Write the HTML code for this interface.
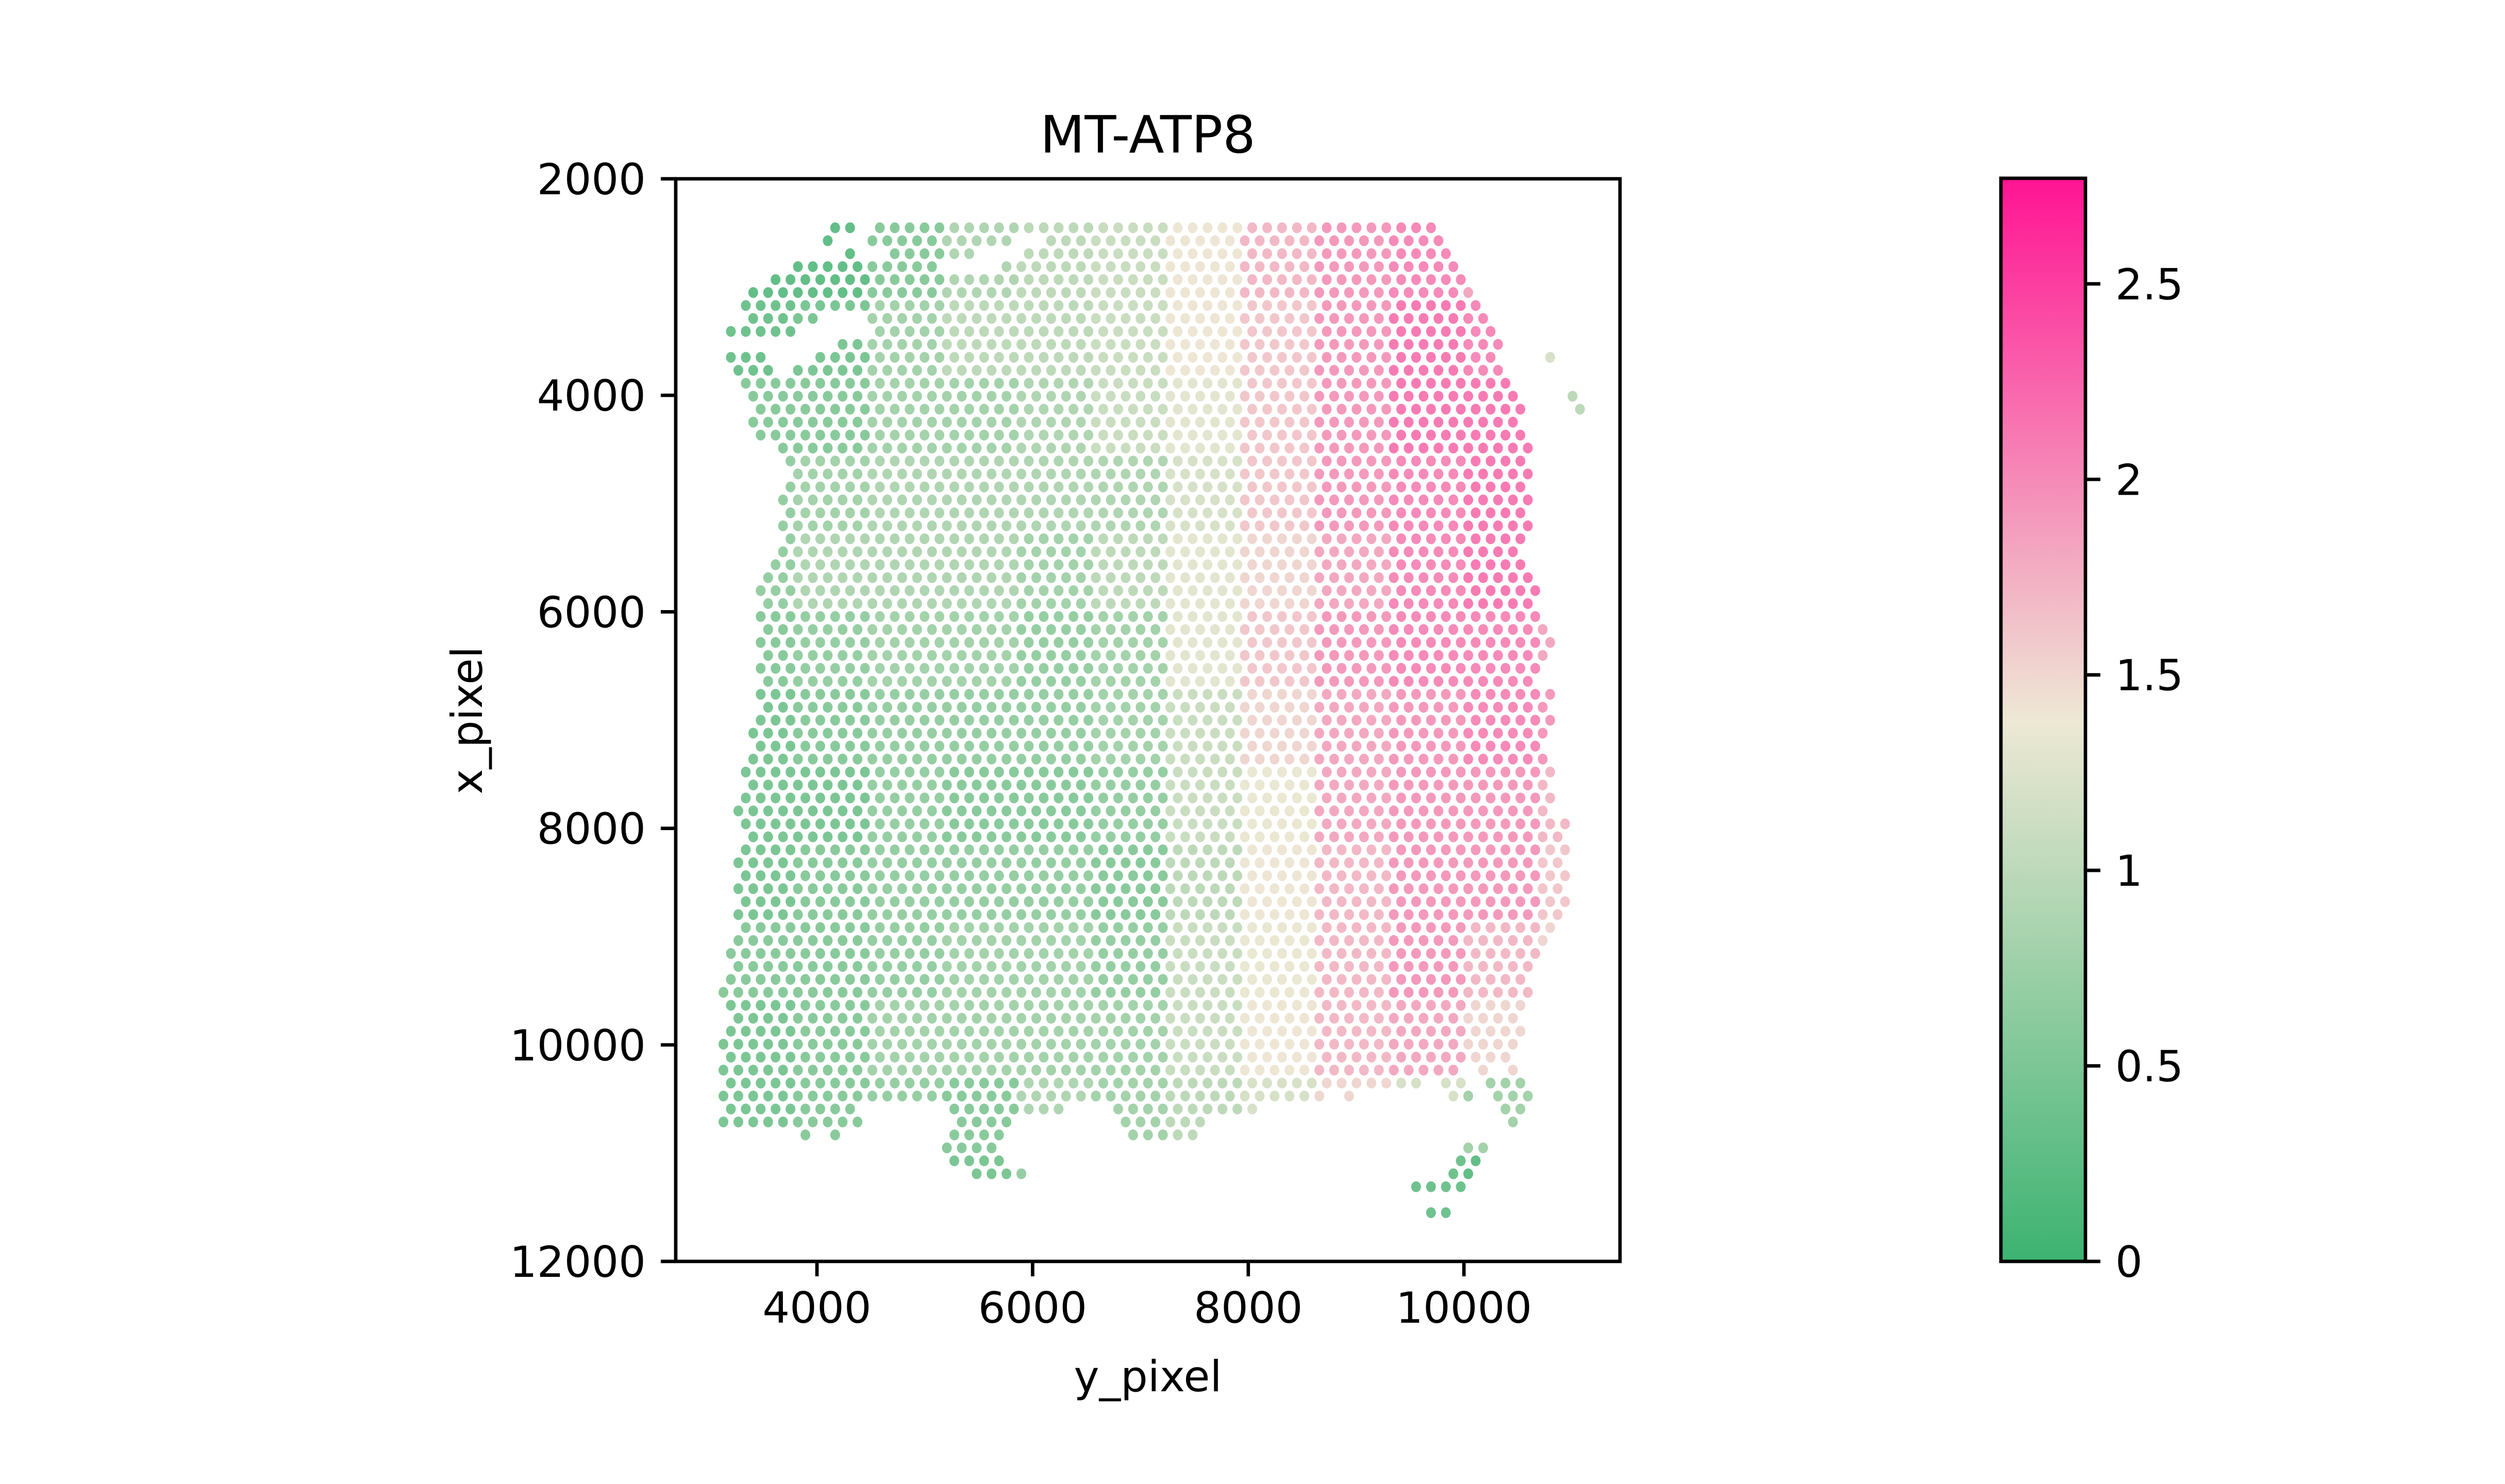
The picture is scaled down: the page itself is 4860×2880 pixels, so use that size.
<!DOCTYPE html>
<html><head><meta charset="utf-8"><style>
html,body{margin:0;padding:0;background:#fff;}
svg{display:block;font-family:"DejaVu Sans","Liberation Sans",sans-serif;}
</style></head><body>
<svg id="fig" width="4860" height="2880" viewBox="0 0 4860 2880" xmlns="http://www.w3.org/2000/svg">
<defs><linearGradient id="cg" x1="0" y1="1" x2="0" y2="0"><stop offset="0" stop-color="#3cb371"/><stop offset="0.5" stop-color="#eee8d5"/><stop offset="1" stop-color="#ff1493"/></linearGradient></defs>
<text x="2227" y="296" font-size="100" text-anchor="middle">MT-ATP8</text>
<g id="spots"></g>
<rect x="1311" y="347" width="1832" height="2101" fill="none" stroke="#000" stroke-width="6.7"/>
<g id="xt"></g>
<g id="yt"></g>
<text x="2227" y="2700" font-size="83" text-anchor="middle">y_pixel</text>
<text x="0" y="0" font-size="83" text-anchor="middle" transform="translate(935,1398) rotate(-90)">x_pixel</text>
<rect x="3882" y="346" width="164" height="2102" fill="url(#cg)" stroke="#000" stroke-width="6.7"/>
<g id="ct"></g>
</svg>
<script>
// coarse estimated expression values per region: bands of 6 spot-rows, 12 column groups
const band0=[0.3,0.3,0.6,0.9,1.0,1.1,1.4,1.7,1.9,2.0,1.8,1.7];
const band1=[0.4,0.5,0.8,1.0,1.0,1.1,1.4,1.6,1.9,2.1,2.0,1.2];
const band2=[0.6,0.6,0.8,0.8,0.9,1.1,1.3,1.6,1.9,2.1,2.1,1.0];
const band3=[0.7,0.8,0.9,0.9,0.9,0.9,1.2,1.6,1.9,2.0,2.1,2.0];
const band4=[0.7,0.9,0.9,0.9,0.8,1.0,1.3,1.5,1.8,2.0,2.1,2.1];
const band5=[0.6,0.7,0.8,0.8,0.7,0.8,1.3,1.6,1.9,2.0,2.0,1.8];
const band6=[0.5,0.6,0.7,0.7,0.7,0.8,1.1,1.5,1.8,1.9,2.0,1.9];
const band7=[0.5,0.5,0.7,0.6,0.6,0.7,1.1,1.35,1.8,1.9,1.9,1.7];
const band8=[0.5,0.6,0.7,0.7,0.7,0.6,1.0,1.4,1.7,1.9,1.9,1.6];
const band9=[0.6,0.6,0.7,0.8,0.8,0.7,1.1,1.35,1.7,1.9,1.7,1.5];
const band10=[0.5,0.6,0.8,0.8,0.8,0.8,1.1,1.4,1.7,1.8,1.5,0.8];
const band11=[0.5,0.6,0.7,0.6,0.9,0.8,1.0,1.2,1.5,1.2,0.8,0.9];
const band12=[0.4,0.4,0.5,0.5,0.7,0.7,0.8,1.0,1.1,0.4,0.3,0.4];
const bands=[band0,band1,band2,band3,band4,band5,band6,band7,band8,band9,band10,band11,band12];
// tissue mask: per spot-row, half-column index ranges
const rowSegs=[
[[14,16],[20,94]],[[13,13],[19,37],[43,95]],[[16,16],[22,32],[40,96]],[[9,27],[37,97]],[[6,98]],[[3,99]],[[2,100]],[[3,11],[19,101]],[[0,8],[20,102]],[[15,103]],
[[0,4],[12,102],[110,110]],[[1,5],[9,103]],[[2,104]],[[3,105],[113,113]],[[4,106],[114,114]],[[3,105]],[[4,106]],[[7,107]],[[8,106]],[[9,107]],
[[8,106]],[[7,107]],[[8,106]],[[7,107]],[[8,106]],[[7,105]],[[6,106]],[[5,107]],[[4,108]],[[5,107]],
[[4,108]],[[5,109]],[[4,110]],[[5,109]],[[4,108]],[[5,107]],[[4,110]],[[5,109]],[[4,110]],[[3,109]],
[[4,108]],[[3,109]],[[2,110]],[[3,109]],[[2,110]],[[1,109]],[[2,112]],[[3,111]],[[2,112]],[[1,111]],
[[2,112]],[[1,111]],[[2,112]],[[1,111]],[[2,110]],[[1,109]],[[0,108]],[[1,107]],[[0,106]],[[-1,107]],
[[0,106]],[[1,105]],[[0,106]],[[-1,105]],[[0,104]],[[-1,97],[101,101],[105,105]],[[0,92],[96,98],[102,106]],[[-1,79],[83,83],[97,99],[103,107]],[[0,16],[30,44],[52,70],[104,106]],[[-1,17],[31,37],[53,63],[105,105]],
[[10,10],[14,14],[30,36],[54,62]],[[29,35],[99,101]],[[30,36],[98,100]],[[33,39],[97,99]],[[92,98]],[],[[94,96]]
];
const cbTicks=[0,0.5,1,1.5,2,2.5];
const cbLabels=["0","0.5","1","1.5","2","2.5"];
const xTicks=[4000,6000,8000,10000];
const yTicks=[2000,4000,6000,8000,10000,12000];
const NS="http://www.w3.org/2000/svg";
const VMAX=2.77;
function ax(v){return 1585+(v-4000)*0.2092;}
function ay(v){return 347+(v-2000)*0.2101;}
function cy(v){return 2448-v*(2102/VMAX);}
function hx(h){return 1418+14.45*h;}
function ry(r){return 442+25.15*r;}
function mix(a,b,t){return a.map((x,i)=>Math.round(x+(b[i]-x)*t));}
function cmap(v){const f=Math.max(0,Math.min(1,v/VMAX));const g=[60,179,113],m=[238,232,213],p=[255,20,147];const c=f<0.5?mix(g,m,f/0.5):mix(m,p,(f-0.5)/0.5);return `rgb(${c[0]},${c[1]},${c[2]})`;}
const sp=document.getElementById('spots');
rowSegs.forEach((segs,r)=>{
  const b=bands[Math.min(12,Math.floor(r/6))];
  segs.forEach(s=>{
    for(let h=s[0];h<=s[1];h+=2){
      const col=Math.max(0,Math.min(11,Math.floor((h+1)/10)));
      const c=document.createElementNS(NS,'ellipse');
      c.setAttribute('cx',hx(h));c.setAttribute('cy',ry(r));c.setAttribute('rx',9.5);c.setAttribute('ry',10.5);
      c.setAttribute('fill',cmap(b[col]));
      
      
      sp.appendChild(c);
    }
  });
});
function line(g,x1,y1,x2,y2){const l=document.createElementNS(NS,'line');l.setAttribute('x1',x1);l.setAttribute('y1',y1);l.setAttribute('x2',x2);l.setAttribute('y2',y2);l.setAttribute('stroke','#000');l.setAttribute('stroke-width',6.7);


g.appendChild(l);}
function txt(g,x,y,s,anchor){const t=document.createElementNS(NS,'text');t.setAttribute('x',x);t.setAttribute('y',y);t.setAttribute('font-size',83);t.setAttribute('text-anchor',anchor);t.textContent=s;


g.appendChild(t);}
const xt=document.getElementById('xt');
xTicks.forEach(v=>{line(xt,ax(v),2448,ax(v),2477);txt(xt,ax(v),2567,String(v),'middle');});
const yt=document.getElementById('yt');
yTicks.forEach(v=>{line(yt,1311,ay(v),1282,ay(v));txt(yt,1253,ay(v)+30,String(v),'end');});
const ct=document.getElementById('ct');
cbTicks.forEach((v,i)=>{line(ct,4046,cy(v),4075,cy(v));txt(ct,4104,cy(v)+30,cbLabels[i],'start');});
</script>
</body></html>
